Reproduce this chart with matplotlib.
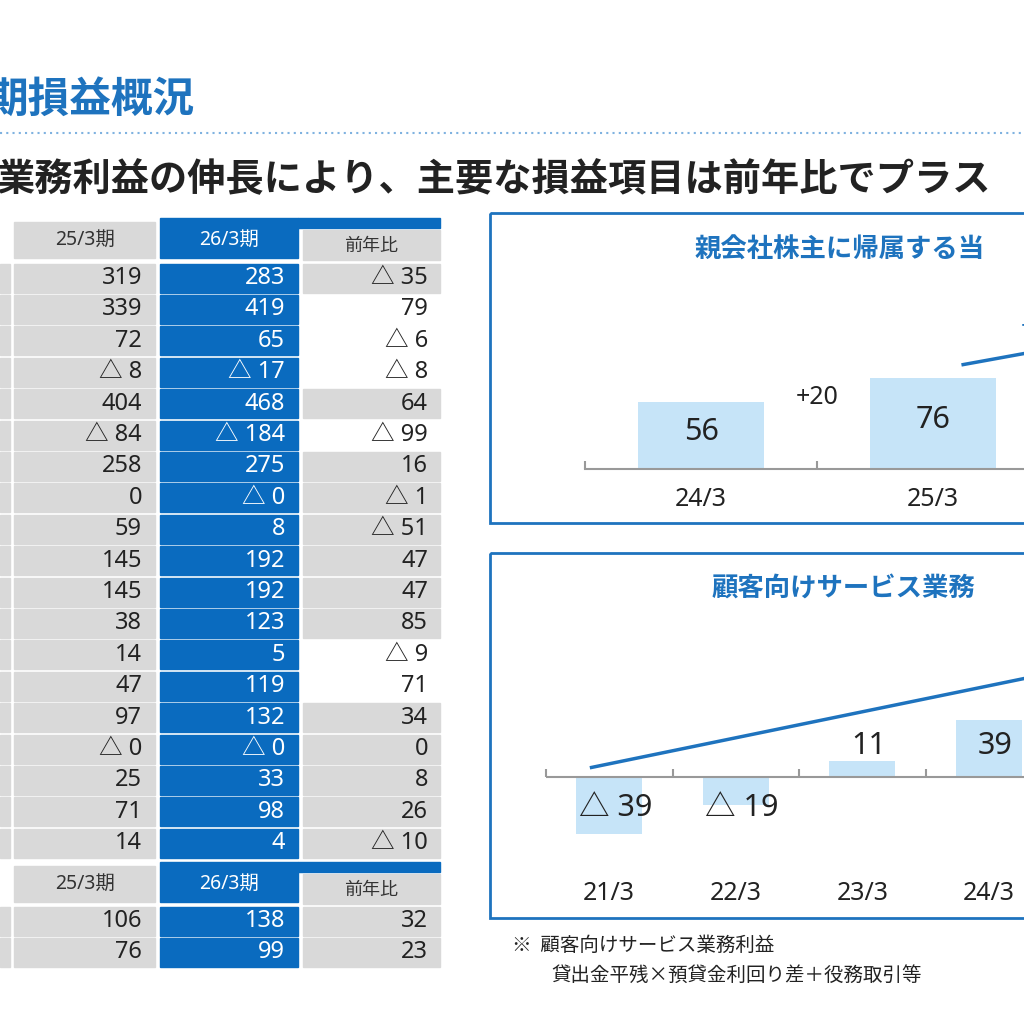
import matplotlib.pyplot as plt
from matplotlib.patches import Rectangle

plt.rcParams['font.family'] = ['Noto Sans', 'Noto Sans CJK JP', 'DejaVu Sans']
CJK = ['Noto Sans CJK JP', 'DejaVu Sans']

# table values (cut-off left labels are not visible)
col_2503 = ["319", "339", "72", "△ 8", "404", "△ 84", "258", "0", "59", "145",
            "145", "38", "14", "47", "97", "△ 0", "25", "71", "14"]
col_2603 = ["283", "419", "65", "△ 17", "468", "△ 184", "275", "△ 0", "8", "192",
            "192", "123", "5", "119", "132", "△ 0", "33", "98", "4"]
col_yoy = ["△ 35", "79", "△ 6", "△ 8", "64", "△ 99", "16", "△ 1", "△ 51", "47",
           "47", "85", "△ 9", "71", "34", "0", "8", "26", "△ 10"]
yoy_white = [1, 2, 3, 5, 12, 13]
sub_2503 = ["106", "76"]
sub_2603 = ["138", "99"]
sub_yoy = ["32", "23"]

# chart 1: net income attributable to parent
c1_cats = ["24/3", "25/3", "26/3"]
c1_vals = [56, 76, 99]
c1_diff = "+20"
# chart 2: customer service business profit
c2_cats = ["21/3", "22/3", "23/3", "24/3", "25/3"]
c2_vals = [-39, -19, 11, 39, 60]
c2_labels = ["△ 39", "△ 19", "11", "39", ""]

BLUE = "#0A6BBF"
GREY = "#D9D9D9"
LBLUE = "#C6E4F8"
TBLUE = "#1E73BE"

fig = plt.figure(figsize=(10.24, 10.24), dpi=100)
ax = fig.add_axes([0, 0, 1, 1])
ax.set_xlim(0, 1024)
ax.set_ylim(1024, 0)
ax.axis("off")

ax.text(-14, 100, "期損益概況", fontsize=30, color=TBLUE, fontweight="bold", va="center",
        family=CJK)
ax.plot([0, 1024], [133, 133], ls=(0, (1, 2)), color="#7FB2E0", lw=1.5)
ax.text(-4, 180, "業務利益の伸長により、主要な損益項目は前年比でプラス", fontsize=27.5,
        color="#222222", fontweight="bold", va="center", family=CJK)


def header(y0):
    ax.add_patch(Rectangle((14, y0 + 4), 141, 36, color=GREY))
    ax.add_patch(Rectangle((160, y0), 138, 40, color=BLUE))
    ax.add_patch(Rectangle((298, y0), 142, 10, color=BLUE))
    ax.add_patch(Rectangle((303, y0 + 12), 137, 30, color=GREY))
    ax.text(85, y0 + 22, "25/3期", fontsize=14, ha="center", va="center", color="#333333")
    ax.text(229, y0 + 22, "26/3期", fontsize=14, ha="center", va="center", color="white")
    ax.text(371, y0 + 28, "前年比", fontsize=13, ha="center", va="center", color="#333333",
            family=CJK)


def rows(yc0, a, b, c, white=()):
    for i in range(len(a)):
        yc = yc0 + i * 31.4
        ax.add_patch(Rectangle((0, yc - 14.5), 10, 29, color=GREY))
        ax.add_patch(Rectangle((14, yc - 14.5), 141, 29, color=GREY))
        ax.add_patch(Rectangle((160, yc - 14.5), 138, 29, color=BLUE))
        ax.add_patch(Rectangle((303, yc - 14.5), 137, 29,
                               color="white" if i in white else GREY))
        ax.text(142, yc, a[i], fontsize=17, ha="right", va="center", color="#222222")
        ax.text(285, yc, b[i], fontsize=17, ha="right", va="center", color="white")
        ax.text(428, yc, c[i], fontsize=17, ha="right", va="center", color="#222222")


header(218)
rows(278, col_2503, col_2603, col_yoy, yoy_white)
header(862)
rows(921, sub_2503, sub_2603, sub_yoy)

# panel boxes
for y0, h in [(213, 310), (553, 365)]:
    ax.add_patch(Rectangle((490, y0), 560, h, fill=False, ec=TBLUE, lw=2))
ax.text(695, 250, "親会社株主に帰属する当", fontsize=19, color=TBLUE,
        fontweight="bold", va="center", family=CJK)
ax.text(712, 588, "顧客向けサービス業務", fontsize=19, color=TBLUE,
        fontweight="bold", va="center", family=CJK)

ax.text(512, 945, "※  顧客向けサービス業務利益", fontsize=14, color="#222222", va="center",
        family=CJK)
ax.text(551, 975, "貸出金平残×預貸金利回り差＋役務取引等", fontsize=14, color="#222222",
        va="center", family=CJK)


def px_axes(x0, x1, y0, y1):
    return fig.add_axes([x0 / 1024, 1 - y1 / 1024, (x1 - x0) / 1024, (y1 - y0) / 1024])


# chart 1: axes from x=585..1024, baseline at y=469, 1.2 px per unit
a1 = px_axes(585, 1024, 300, 469)
a1.bar(range(len(c1_vals)), c1_vals, width=0.54, color=LBLUE)
for i, v in enumerate(c1_vals):
    a1.text(i, v / 2 + 3, str(v), fontsize=22, ha="center", va="center", color="#222222")
a1.text(0.5, 60, c1_diff, fontsize=18, ha="center", va="center", color="#222222")
a1.plot([1.13, 1.5], [87, 100], color=TBLUE, lw=2.5)
a1.text(1.38, 118, "+", fontsize=18, color=TBLUE, va="center")
for s in ["top", "right", "left"]:
    a1.spines[s].set_visible(False)
a1.spines["bottom"].set_color("#999999")
a1.spines["bottom"].set_linewidth(1.5)
a1.set_yticks([])
a1.set_xticks([-0.5, 0.5, 1.5])
a1.set_xticklabels([])
a1.tick_params(axis="x", length=6, color="#999999", width=1.5, direction="in")
a1.patch.set_alpha(0)
for i, c in enumerate(c1_cats[:2]):
    a1.text(i, -25, c, fontsize=18, ha="center", va="center", color="#222222")
a1.set_xlim(-0.5, -0.5 + 439 / 232)
a1.set_ylim(0, 169 / 1.2)

# chart 2: axes from x=546..1024, baseline at y=777, 1.47 px per unit
sp = 126.5
scale = 1.47
a2 = px_axes(546, 1024, 640, 900)
a2.bar(range(len(c2_vals)), c2_vals, width=0.52, color=LBLUE)
a2.axhline(0, color="#999999", lw=1.5)
a2.set_xticks([k - 0.5 for k in range(5)])
a2.set_xticklabels([])
a2.tick_params(axis="x", length=6, color="#999999", width=1.5, direction="in", pad=0)
a2.spines["bottom"].set_position(("data", 0))
a2.spines["bottom"].set_visible(False)
for s in ["top", "right", "left"]:
    a2.spines[s].set_visible(False)
a2.set_yticks([])
a2.patch.set_alpha(0)
lab_y = [-21, -21, 21, 21, 0]
for i, t in enumerate(c2_labels):
    if t:
        a2.text(i + 0.05, lab_y[i], t, fontsize=22, ha="center", va="center", color="#222222")
for i, c in enumerate(c2_cats[:4]):
    a2.text(i, -(893 - 777) / scale, c, fontsize=18, ha="center", va="center", color="#222222")
a2.plot([-0.14, 3.28], [6.5, 67], color=TBLUE, lw=2.5)
a2.set_xlim(-0.5, -0.5 + 478 / sp)
a2.set_ylim(-(900 - 777) / scale, (777 - 640) / scale)

fig.savefig("out.png", dpi=100)
